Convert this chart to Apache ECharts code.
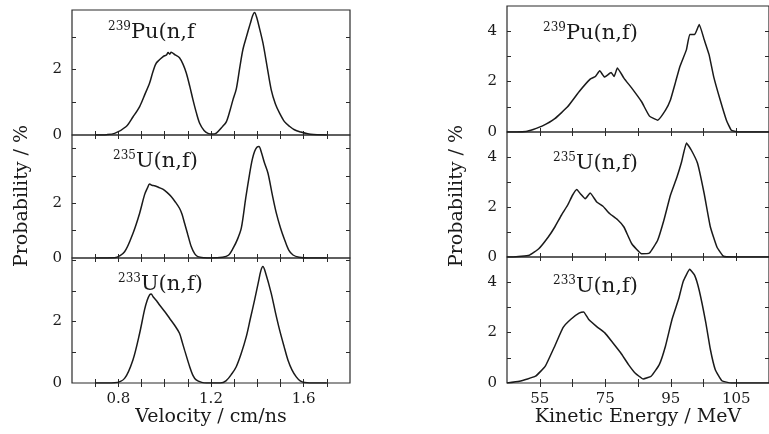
<!DOCTYPE html>
<html><head><meta charset="utf-8">
<script src="https://cdn.jsdelivr.net/npm/echarts@6/dist/echarts.min.js"></script>
<style>html,body{margin:0;padding:0;background:#fff}#c{width:769px;height:434px}</style>
</head><body><div id="c"></div><script>
const FONT = 'DejaVu Serif';
const INK = '#1a1a1a';

// ---- Velocity distributions (cm/ns, %) ----
const velPu239 = [[0.70,0],[0.75,0.01],[0.784,0.05],[0.834,0.26],[0.863,0.55],[0.892,0.87],[0.915,1.25],[0.935,1.59],[0.950,1.95],[0.964,2.2],[0.992,2.39],[1.008,2.45],[1.015,2.52],[1.022,2.47],[1.028,2.53],[1.045,2.45],[1.064,2.36],[1.080,2.15],[1.093,1.9],[1.108,1.5],[1.122,1.08],[1.136,0.7],[1.151,0.36],[1.170,0.14],[1.187,0.05],[1.205,0.03],[1.223,0.06],[1.250,0.26],[1.266,0.4],[1.282,0.75],[1.295,1.08],[1.309,1.4],[1.325,2.1],[1.338,2.62],[1.352,2.98],[1.370,3.42],[1.380,3.65],[1.388,3.74],[1.396,3.62],[1.408,3.3],[1.424,2.82],[1.442,2.1],[1.460,1.38],[1.478,0.95],[1.496,0.67],[1.518,0.4],[1.540,0.26],[1.560,0.16],[1.583,0.1],[1.63,0.02],[1.70,0]];
const velU235 = [[0.70,0],[0.784,0.01],[0.827,0.23],[0.863,0.9],[0.892,1.64],[0.913,2.31],[0.925,2.55],[0.935,2.71],[0.945,2.66],[0.956,2.64],[0.975,2.58],[0.992,2.52],[1.010,2.4],[1.028,2.25],[1.046,2.05],[1.064,1.82],[1.075,1.6],[1.086,1.27],[1.100,0.85],[1.115,0.41],[1.130,0.15],[1.143,0.05],[1.17,0.01],[1.20,0],[1.25,0.03],[1.275,0.1],[1.295,0.35],[1.315,0.7],[1.331,1.1],[1.350,2.2],[1.367,3.1],[1.378,3.6],[1.388,3.9],[1.398,4.05],[1.407,4.08],[1.418,3.85],[1.430,3.5],[1.446,3.1],[1.465,2.3],[1.482,1.64],[1.500,1.1],[1.518,0.66],[1.535,0.3],[1.554,0.11],[1.58,0.03],[1.62,0],[1.70,0]];
const velU233 = [[0.70,0],[0.784,0.01],[0.827,0.15],[0.863,0.75],[0.892,1.62],[0.913,2.38],[0.925,2.7],[0.935,2.87],[0.942,2.9],[0.950,2.81],[0.965,2.68],[0.978,2.54],[1.000,2.33],[1.021,2.11],[1.043,1.88],[1.064,1.62],[1.075,1.35],[1.086,1.07],[1.108,0.53],[1.122,0.25],[1.136,0.1],[1.16,0.02],[1.18,0],[1.24,0],[1.266,0.08],[1.290,0.3],[1.309,0.53],[1.330,0.95],[1.352,1.5],[1.370,2.1],[1.388,2.7],[1.405,3.3],[1.415,3.65],[1.424,3.79],[1.435,3.6],[1.460,2.92],[1.478,2.3],[1.496,1.73],[1.515,1.2],[1.532,0.75],[1.550,0.42],[1.568,0.2],[1.585,0.07],[1.604,0.02],[1.65,0],[1.70,0]];

// ---- Kinetic energy distributions (MeV, %) ----
const kePu239 = [[45,0],[48,0],[50.8,0.02],[53,0.1],[55.7,0.23],[59.6,0.53],[63.5,1.0],[67,1.6],[70.4,2.1],[72,2.2],[73.3,2.43],[74.8,2.18],[76.8,2.36],[77.7,2.2],[78.7,2.54],[80.7,2.14],[83.1,1.74],[86.1,1.2],[88.5,0.63],[91,0.47],[93.4,0.87],[94.9,1.27],[96.5,2.0],[97.8,2.6],[99.8,3.27],[100.8,3.87],[102.3,3.87],[103.7,4.27],[105.2,3.67],[106.7,3.07],[108.1,2.2],[110.1,1.27],[112,0.47],[113.5,0.07],[115.5,0],[125,0]];
const keU235 = [[45,0],[46.9,0],[51.8,0.07],[54.7,0.33],[57.6,0.8],[59.6,1.2],[61.6,1.67],[63.5,2.07],[65,2.47],[66.3,2.7],[67.4,2.53],[68.9,2.33],[70.4,2.56],[72.4,2.2],[74.3,2.03],[76.3,1.74],[78.7,1.5],[80.7,1.2],[83.1,0.53],[86.1,0.13],[88.5,0.16],[91,0.67],[92.9,1.47],[94.9,2.47],[96.9,3.2],[98.3,3.8],[99.8,4.56],[101.3,4.27],[103.2,3.74],[105.2,2.54],[107.1,1.2],[109.1,0.4],[111.1,0.03],[114,0],[125,0]];
const keU233 = [[45,0],[48.8,0.07],[53.7,0.27],[56.7,0.67],[59.6,1.47],[62.1,2.2],[64.5,2.53],[67,2.77],[68.4,2.82],[69.9,2.53],[72.4,2.24],[74.8,2.0],[77.3,1.6],[79.7,1.2],[82.1,0.73],[84.1,0.4],[86.6,0.16],[89,0.27],[91.5,0.73],[93.4,1.47],[95.4,2.53],[97.4,3.33],[98.8,4.03],[100.8,4.51],[102.3,4.27],[103.7,3.67],[105.7,2.4],[107.1,1.33],[108.6,0.53],[110.6,0.09],[113.5,0],[125,0]];

// ---- axes / ticks / labels ----
const velRange = [0.6, 1.8];
const velTicks = [0.7,0.8,0.9,1.0,1.1,1.2,1.3,1.4,1.5,1.6,1.7];
const velLabelValues = [0.8, 1.2, 1.6];
const velLabelText = ['0.8', '1.2', '1.6'];
const keRange = [45, 125];
const keTicks = [55,65,75,85,95,105,115];
const keLabelValues = [55, 75, 95, 115];
const keLabelText = ['55', '75', '95', '105'];
const velYMax = [3.82, 4.5, 4.07];
const keYMax = [5, 5, 5];
const velYTicks = [1,2,3,4];
const velYLabels = [0, 2];
const keYTicks = [1,2,3,4];
const keYLabels = [0, 2, 4];
const velNames = [['239','Pu(n,f'],['235','U(n,f)'],['233','U(n,f)']];
const keNames = [['239','Pu(n,f)'],['235','U(n,f)'],['233','U(n,f)']];
const xTitleVel = 'Velocity / cm/ns';
const xTitleKE = 'Kinetic Energy / MeV';
const yTitle = 'Probability / %';

const grids = [
  {left:72, top:10, width:278, height:125},
  {left:72, top:135, width:278, height:123},
  {left:72, top:258, width:278, height:125},
  {left:507, top:6, width:272, height:126},
  {left:507, top:132, width:272, height:125},
  {left:507, top:257, width:272, height:126}
].map(g => Object.assign(g, {show:true, borderColor:'#2a2a2a', borderWidth:1.2, backgroundColor:'transparent'}));

const tickStyle = {show:true, inside:true, length:4, lineStyle:{color:'#2a2a2a', width:1}};
const labStyle = {fontFamily:FONT, fontSize:15, color:INK};

const xAxis = [], yAxis = [], series = [];
for (let gi = 0; gi < 6; gi++) {
  const isVel = gi < 3;
  const row = gi % 3;
  const range = isVel ? velRange : keRange;
  const ticks = isVel ? velTicks : keTicks;
  const lv = isVel ? velLabelValues : keLabelValues;
  const lt = isVel ? velLabelText : keLabelText;
  ['bottom','top'].forEach(pos => {
    const showLab = pos === 'bottom' && row === 2;
    const ax = {
      type:'value', gridIndex:gi, position:pos, min:range[0], max:range[1],
      axisLine:{show:false}, splitLine:{show:false},
      axisTick:Object.assign({customValues:ticks}, tickStyle),
      axisLabel:Object.assign({show:showLab, customValues:lv, margin:9,
        formatter: v => { const i = lv.findIndex(a => Math.abs(a - v) < 1e-6); return i >= 0 ? lt[i] : ''; }}, labStyle)
    };
    if (showLab) {
      ax.name = isVel ? xTitleVel : xTitleKE;
      ax.nameLocation = 'middle';
      ax.nameGap = 25;
      ax.nameTextStyle = {fontFamily:FONT, fontSize:19, color:INK};
    }
    xAxis.push(ax);
  });
  const ymax = isVel ? velYMax[row] : keYMax[row];
  const yt = (isVel ? velYTicks : keYTicks).filter(v => v < ymax - 0.05);
  const yl = isVel ? velYLabels : keYLabels;
  ['left','right'].forEach(pos => {
    yAxis.push({
      type:'value', gridIndex:gi, position:pos, min:0, max:ymax,
      axisLine:{show:false}, splitLine:{show:false},
      axisTick:Object.assign({customValues:yt}, tickStyle),
      axisLabel:Object.assign({show:pos === 'left', customValues:yl, margin:10,
        formatter: v => String(Math.round(v))}, labStyle)
    });
  });
  const data = [velPu239, velU235, velU233, kePu239, keU235, keU233][gi];
  series.push({
    type:'line', xAxisIndex:2*gi, yAxisIndex:2*gi, data:data,
    showSymbol:false, smooth:isVel ? 0.3 : 0.12,
    lineStyle:{color:INK, width:1.5}, silent:true
  });
}

const annoPos = [[108,33],[113,162],[118,285],[543,34],[553,164],[553,287]];
const rich = {
  s:{fontFamily:FONT, fontSize:12, color:INK, verticalAlign:'top', lineHeight:13},
  b:{fontFamily:FONT, fontSize:21, color:INK, lineHeight:24}
};
const graphic = [];
velNames.concat(keNames).forEach((nm, i) => {
  graphic.push({type:'text', x:annoPos[i][0], y:annoPos[i][1], silent:true,
    style:{text:'{s|' + nm[0] + '}{b|' + nm[1] + '}', rich:rich, align:'left', verticalAlign:'middle', textAlign:'left', textVerticalAlign:'middle', fill:INK}});
});
[[22,196],[457,196]].forEach(p => {
  graphic.push({type:'text', x:p[0], y:p[1], rotation:Math.PI/2, silent:true,
    style:{text:yTitle, font:'19px "DejaVu Serif"', fill:INK, align:'center', verticalAlign:'middle', textAlign:'center', textVerticalAlign:'middle'}});
});

const chart = echarts.init(document.getElementById('c'), null, {renderer:'canvas'});
chart.setOption({animation:false, backgroundColor:'#fff', grid:grids, xAxis:xAxis, yAxis:yAxis, series:series, graphic:graphic});
</script></body></html>
